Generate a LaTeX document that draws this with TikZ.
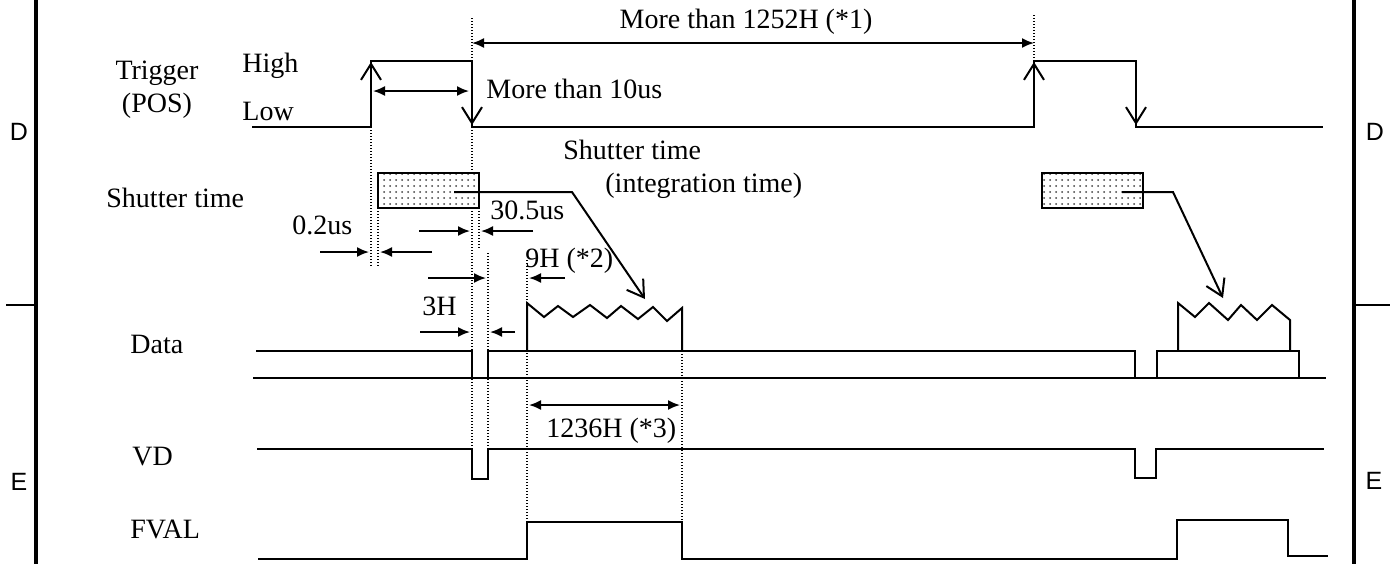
\documentclass[tikz,border=0pt]{standalone}
\usepackage{fontspec}
\setmainfont{Liberation Serif}
\newfontfamily\sansf{Liberation Sans}
\usetikzlibrary{arrows.meta,patterns}
\begin{document}
\begin{tikzpicture}[x=0.5pt,y=-0.5pt,
  sig/.style={line width=1pt, line join=miter},
  dotln/.style={line width=0.55pt, dash pattern=on 0.5pt off 1pt},
  dimarr/.style={line width=0.9pt, -{Latex[length=6pt,width=5pt]}},
  dimboth/.style={line width=0.9pt, {Latex[length=6pt,width=5pt]}-{Latex[length=6pt,width=5pt]}},
  vhead/.style={line width=1pt, -{Straight Barb[length=8pt,width=10pt,line width=1pt]}},
  txt/.style={inner sep=0pt, anchor=base west, font=\fontsize{14}{16}\selectfont},
  side/.style={inner sep=0pt, font=\sansf\fontsize{12.5}{14}\selectfont},
  border/.style={line width=2pt},
  shbox/.style={line width=1pt, preaction={fill=white}, pattern=dots, pattern color=black!75}]
\useasboundingbox (0,0) rectangle (1399,564);

% frame
\draw[border] (36,0) -- (36,564);
\draw[border] (1354,0) -- (1354,564);
\draw[line width=0.7pt] (6,305) -- (36,305);
\draw[line width=0.7pt] (1354,305) -- (1390,305);
\node[side] (dl) at (19,132) {D};
\node[side] (dr) at (1375,132) {D};
\node[side] (el) at (19,482) {E};
\node[side] (er) at (1374,481) {E};

% labels
\node[txt, anchor=base] (trig) at (157,79) {Trigger};
\node[txt, anchor=base] (pos) at (157,112) {(POS)};
\node[txt] (high) at (242,72) {High};
\node[txt] (low) at (242,120) {Low};
\node[txt] (shl) at (106,207) {Shutter time};
\node[txt] (data) at (130,353) {Data};
\node[txt] (vd) at (132,465) {VD};
\node[txt] (fval) at (130,538) {FVAL};

\node[txt, anchor=base] (t1252) at (746,28) {More than 1252H (*1)};
\node[txt] (t10) at (486,98) {More than 10us};
\node[txt] (shm) at (563,159) {Shutter time};
\node[txt] (integ) at (605,192) {(integration time)};
\node[txt] (t02) at (292,234) {0.2us};
\node[txt] (t305) at (490,219) {30.5us};
\node[txt] (t9h) at (525,267) {9H (*2)};
\node[txt] (t3h) at (422,315) {3H};
\node[txt] (t1236) at (546,437) {1236H (*3)};

% dotted guides
\draw[dotln] (472,18) -- (472,61);
\draw[dotln] (472,127) -- (472,449);
\draw[dotln] (1034,15) -- (1034,61);
\draw[dotln] (371,127) -- (371,268);
\draw[dotln] (378,208) -- (378,268);
\draw[dotln] (479,208) -- (479,248);
\draw[dotln] (488,253) -- (488,449);
\draw[dotln] (527,260) -- (527,522);
\draw[dotln] (682,351) -- (682,522);

% trigger
\draw[sig] (252,127) -| (371,61) -| (472,127) -| (1034,61) -| (1136,127) -- (1323,127);
\draw[vhead] (371,100) -- (371,62);
\draw[vhead] (472,90) -- (472,125);
\draw[vhead] (1034,100) -- (1034,62);
\draw[vhead] (1136,90) -- (1136,125);

% dimension arrows
\draw[dimboth] (472,43) -- (1034,43);
\draw[dimboth] (373,91) -- (469,91);
\draw[dimarr] (320,252) -- (369,252);
\draw[dimarr] (432,252) -- (380,252);
\draw[dimarr] (419,231) -- (470,231);
\draw[dimarr] (533,231) -- (481,231);
\draw[dimarr] (428,278) -- (486,278);
\draw[dimarr] (565,278) -- (529,278);
\draw[dimarr] (420,332) -- (470,332);
\draw[dimarr] (515,332) -- (490,332);
\draw[dimboth] (529,405) -- (680,405);

% shutter boxes
\draw[shbox] (378,173) rectangle (479,208);
\draw[shbox] (1042,173) rectangle (1143,208);
\draw[vhead, line join=miter] (454,192) -- (572,192) -- (645,299);
\draw[vhead, line join=miter] (1122,192) -- (1173,192) -- (1223,298);

% data
\draw[sig] (256,351) -- (472,351) -- (472,378);
\draw[sig] (253,378) -- (1326,378);
\draw[sig] (488,378) -- (488,351) -- (1135,351) -- (1135,378);
\draw[sig] (1157,351) rectangle (1299,378);
\draw[sig] (527,351) -- (527,303) -- (544,317) -- (558,306) -- (573,317) -- (590,305) -- (607,318) -- (621,306) -- (638,319) -- (653,307) -- (667,321) -- (682,308) -- (682,351);
\draw[sig] (1178,351) -- (1178,303) -- (1195,317) -- (1209,303) -- (1228,320) -- (1241,305) -- (1257,320) -- (1272,305) -- (1290,320) -- (1290,351);

% VD
\draw[sig] (257,449) -- (472,449) -- (472,479) -- (488,479) -- (488,449) -- (1135,449) -- (1135,478) -- (1156,478) -- (1156,449) -- (1324,449);

% FVAL
\draw[sig] (258,559) -- (527,559) -- (527,522) -- (682,522) -- (682,559) -- (1177,559) -- (1177,520) -- (1288,520) -- (1288,556) -- (1328,556);
\end{tikzpicture}
\end{document}
